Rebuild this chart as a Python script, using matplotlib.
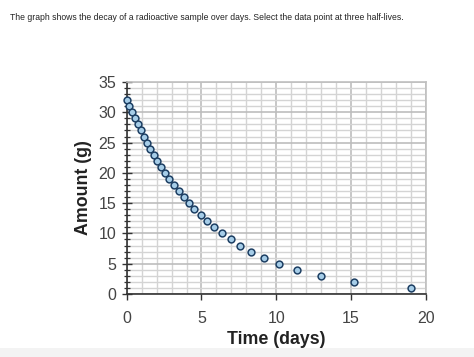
import matplotlib
matplotlib.use("Agg")
import matplotlib.pyplot as plt
from matplotlib.ticker import MultipleLocator

plt.rcParams['font.family'] = ['Liberation Sans', 'DejaVu Sans']

title_text = "The graph shows the decay of a radioactive sample over days. Select the data point at three half-lives."
x_label = "Time (days)"
y_label = "Amount (g)"

time_days = [0.0, 0.17, 0.35, 0.54, 0.73, 0.93, 1.14, 1.35, 1.58, 1.81, 2.05, 2.31,
             2.58, 2.86, 3.15, 3.47, 3.80, 4.15, 4.53, 4.94, 5.38, 5.85, 6.38, 6.95,
             7.60, 8.33, 9.18, 10.18, 11.40, 12.98, 15.20, 19.00]
amount_g = [32, 31, 30, 29, 28, 27, 26, 25, 24, 23, 22, 21,
            20, 19, 18, 17, 16, 15, 14, 13, 12, 11, 10, 9,
            8, 7, 6, 5, 4, 3, 2, 1]

x_ticks = [0, 5, 10, 15, 20]
y_ticks = [0, 5, 10, 15, 20, 25, 30, 35]

fig = plt.figure(figsize=(4.74, 3.57), dpi=100)
fig.patch.set_facecolor('white')

# faint grey band at the very bottom of the picture
fig.patches.append(plt.Rectangle((0, 0), 1, 0.025, transform=fig.transFigure,
                                 facecolor='#f3f3f3', edgecolor='none', zorder=0))

fig.text(10 / 474, 1 - 18 / 357, title_text, fontsize=6.25, color='#222222',
         ha='left', va='center')

ax = fig.add_axes([126.7 / 474, 1 - 294 / 357, (425.7 - 126.7) / 474, (294 - 82) / 357])
ax.set_xlim(0, 20)
ax.set_ylim(0, 35)

ax.xaxis.set_major_locator(MultipleLocator(5))
ax.xaxis.set_minor_locator(MultipleLocator(1))
ax.yaxis.set_major_locator(MultipleLocator(5))
ax.yaxis.set_minor_locator(MultipleLocator(1))
ax.set_xticks(x_ticks)
ax.set_yticks(y_ticks)

ax.grid(which='minor', color='#d4d4d4', linewidth=1.0)
ax.grid(which='major', color='#bdbdbd', linewidth=1.2)
ax.set_axisbelow(True)

for side in ['top', 'right']:
    ax.spines[side].set_color('#c0c0c0')
    ax.spines[side].set_linewidth(1.2)
for side in ['left', 'bottom']:
    ax.spines[side].set_color('#333333')
    ax.spines[side].set_linewidth(1.2)

ax.tick_params(axis='y', which='major', direction='inout', length=7, width=1.0,
               color='#333333', labelsize=11.5, labelcolor='#444444', pad=4)
ax.tick_params(axis='y', which='minor', direction='inout', length=5, width=0.9,
               color='#333333')
ax.tick_params(axis='x', which='major', direction='out', length=4, width=1.0,
               color='#333333', labelsize=11.5, labelcolor='#444444', pad=8)
ax.tick_params(axis='x', which='minor', length=0)

ax.set_xlabel(x_label, fontsize=12.8, fontweight='bold', color='#222222', labelpad=4)
ax.set_ylabel(y_label, fontsize=12.8, fontweight='bold', color='#222222', labelpad=5)

ax.scatter(time_days, amount_g, s=24, facecolor='#a6cde8', edgecolor='#1d3f63',
           linewidth=1.1, zorder=3, clip_on=False)

fig.savefig('out.png', dpi=100)
